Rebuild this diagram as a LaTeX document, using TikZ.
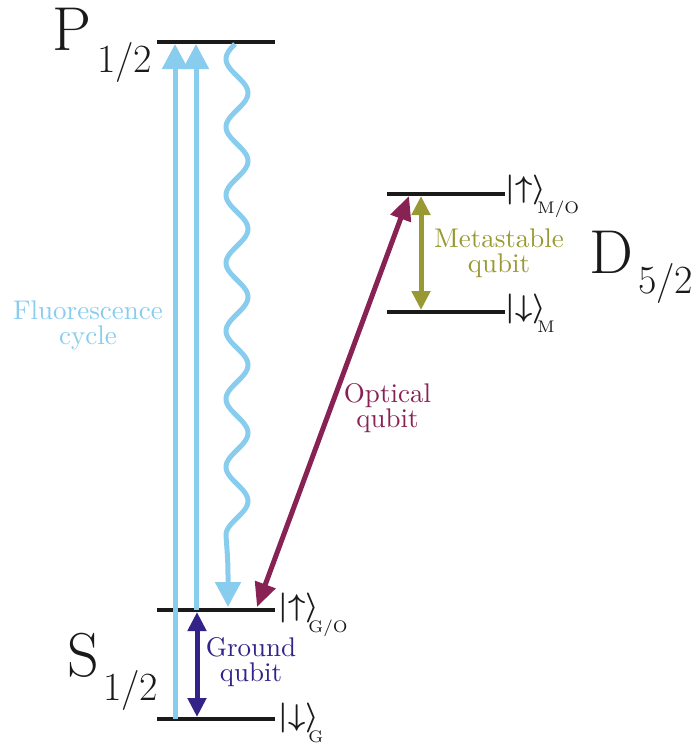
\documentclass[tikz,border=0pt]{standalone}
\usetikzlibrary{arrows.meta}
\definecolor{tcyan}{HTML}{88CCEE}
\definecolor{tindigo}{HTML}{332288}
\definecolor{tolive}{HTML}{999933}
\definecolor{twine}{HTML}{882255}
\definecolor{lvl}{HTML}{1A1A1A}
\begin{document}
\begin{tikzpicture}[x=1pt,y=-1pt,
  levelline/.style={line width=4.5pt, lvl},
  bigcap/.style={inner sep=0pt, anchor=base west, text=lvl, font=\fontsize{62}{62}\selectfont},
  bigsub/.style={inner sep=0pt, anchor=base west, text=lvl, font=\fontsize{40}{40}\selectfont},
  ketnode/.style={inner sep=0pt, anchor=base west, text=lvl, font=\fontsize{10}{12}\selectfont\boldmath, scale=3, transform shape},
  ketsub/.style={inner sep=0pt, anchor=base west, text=lvl, font=\fontsize{7}{8}\selectfont, scale=2.4, transform shape},
  lab/.style={inner sep=0pt, align=center, font=\fontsize{10}{9.3}\selectfont, scale=2.7, transform shape},
  bigtip/.style={-{Triangle[length=25pt,width=25pt]}},
  smalltip/.style={{Triangle[length=19pt,width=18pt]}-{Triangle[length=19pt,width=18pt]}},
  midtip/.style={{Triangle[length=24pt,width=21pt]}-{Triangle[length=24pt,width=21pt]}}]
\useasboundingbox (0,0) rectangle (700,747);
% levels
\coordinate (PL) at (157,42);  \coordinate (PR) at (275,42);
\coordinate (DUL) at (387,194); \coordinate (DUR) at (505,194);
\coordinate (DLL) at (387,312); \coordinate (DLR) at (505,312);
\coordinate (SUL) at (157,610); \coordinate (SUR) at (275,610);
\coordinate (SLL) at (157,719); \coordinate (SLR) at (275,719);
\draw[levelline] (PL) -- (PR);
\draw[levelline] (DUL) -- (DUR);
\draw[levelline] (DLL) -- (DLR);
\draw[levelline] (SUL) -- (SUR);
\draw[levelline] (SLL) -- (SLR);
% level names
\node[bigcap] (Pn) at (52,50) {P};
\node[bigsub] (Ps) at (97,72) {1/2};
\node[bigcap] (Dn) at (589,273) {D};
\node[bigsub] (Ds) at (638,293) {5/2};
\node[bigcap] (Sn) at (67,676) {S};
\node[bigsub] (Ss) at (103,700) {1/2};
% kets
\node[ketnode] (k1) at (505,197.5) {$|{\uparrow}\rangle$};
\node[ketsub] (k1s) at (537,213) {M/O};
\node[ketnode] (k2) at (505,316.5) {$|{\downarrow}\rangle$};
\node[ketsub] (k2s) at (537,332) {M};
\node[ketnode] (k3) at (278,615.5) {$|{\uparrow}\rangle$};
\node[ketsub] (k3s) at (308,632) {G/O};
\node[ketnode] (k4) at (278,725) {$|{\downarrow}\rangle$};
\node[ketsub] (k4s) at (308,742) {G};
% fluorescence arrows
\coordinate (c1b) at (175,719); \coordinate (c1t) at (175,44);
\coordinate (c2b) at (196,610); \coordinate (c2t) at (196,44);
\draw[line width=5pt, tcyan, bigtip] (c1b) -- (c1t);
\draw[line width=5pt, tcyan, bigtip] (c2b) -- (c2t);
\coordinate (wend) at (228,607);
\draw[line width=5pt, tcyan, bigtip] plot[domain=44:536, samples=240, smooth] ({237+11*sin(5.29412*(\x-76))}, {\x}) .. controls (227,550) and (228,560) .. (228,575) -- (wend);
% optical qubit
\coordinate (o1) at (257,607); \coordinate (o2) at (409,196);
\draw[line width=5pt, twine, midtip] (o1) -- (o2);
% metastable qubit
\coordinate (m1) at (421,196); \coordinate (m2) at (421,310);
\draw[line width=5pt, tolive, smalltip] (m1) -- (m2);
% ground qubit
\coordinate (g1) at (197,612); \coordinate (g2) at (197,717);
\draw[line width=5pt, tindigo, smalltip] (g1) -- (g2);
% labels
\node[lab, text=tcyan] (fl) at (88,325) {Fluorescence\\cycle};
\node[lab, text=tolive] (ml) at (499,253) {Metastable\\qubit};
\node[lab, text=twine] (ol) at (387.5,408) {Optical\\qubit};
\node[lab, text=tindigo] (gl) at (251,662) {Ground\\qubit};
\end{tikzpicture}
\end{document}
